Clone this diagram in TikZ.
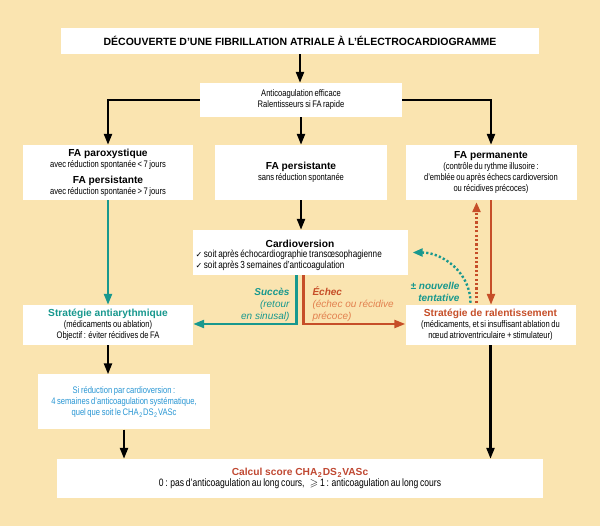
\documentclass[tikz,border=0pt]{standalone}
\usepackage{fontspec}
\setmainfont{Liberation Sans}
\newfontfamily\etroit[FakeStretch=0.8,WordSpace=0.75]{Liberation Sans}
\newfontfamily\symboles{DejaVu Sans}
\usepackage{amssymb}
\usetikzlibrary{arrows.meta}

\definecolor{fond}{RGB}{250,228,176}
\definecolor{vert}{RGB}{24,152,142}
\definecolor{rouille}{RGB}{198,78,40}
\definecolor{orangeclair}{RGB}{226,128,78}
\definecolor{bleuclair}{RGB}{40,150,212}
\definecolor{rougetitre}{RGB}{192,72,50}

\newcommand\titre[1]{{\normalfont\bfseries\fontsize{10.2}{12}\selectfont #1}}
\newcommand\coche{{\symboles\fontsize{8}{10}\selectfont ✓}}
\newcommand\chads{CHA\kern.6pt\textsubscript{2}\kern.3pt DS\kern.6pt\textsubscript{2}\kern.3pt VASc}

\begin{document}
\begin{tikzpicture}[x=1pt,y=-1pt,
  boite/.style={fill=white, inner sep=2pt, align=center,
    font=\etroit\fontsize{9.5}{11}\selectfont},
  fleche/.style={line width=2.3pt, -{Triangle[length=11pt,width=8pt]}},
  pointille/.style={line width=2.4pt, dash pattern=on 2.2pt off 2.2pt,
    -{Triangle[length=10pt,width=8pt]}},
  legende/.style={font=\fontsize{10}{12}\selectfont\itshape}]
  % fond
  \fill[fond] (0,0) rectangle (600,526);

  % boites
  \node[boite, minimum width=478pt, minimum height=26pt,
    font=\bfseries\fontsize{10.5}{12}\selectfont] (titre) at (300,41)
    {DÉCOUVERTE D’UNE FIBRILLATION ATRIALE À L’ÉLECTROCARDIOGRAMME};
  \node[boite, minimum width=202pt, minimum height=34pt] (anticoag) at (301,100)
    {Anticoagulation efficace\\ Ralentisseurs si FA rapide};
  \node[boite, minimum width=170pt, minimum height=55pt] (parox) at (108,172.5)
    {\titre{FA paroxystique}\\ avec réduction spontanée < 7 jours\\[5pt]
     \titre{FA persistante}\\ avec réduction spontanée > 7 jours};
  \node[boite, minimum width=172pt, minimum height=55pt] (persist) at (301,172.5)
    {\titre{FA persistante}\\ sans réduction spontanée};
  \node[boite, minimum width=171pt, minimum height=55pt] (perm) at (491,172.5)
    {\titre{FA permanente}\\ (contrôle du rythme illusoire :\\
     d’emblée ou après échecs cardioversion\\ ou récidives précoces)};
  \node[boite, minimum width=215pt, minimum height=45pt, text width=209pt, align=flush left,
    font=\etroit\fontsize{10.2}{11}\selectfont] (cardio) at (300,252.5)
    {\rule{0pt}{13pt}\makebox[209pt]{\titre{Cardioversion}}\\[-1pt]
     \coche\ soit après échocardiographie transœsophagienne\\
     \coche\ soit après 3 semaines d’anticoagulation};
  \node[boite, minimum width=170pt, minimum height=40pt] (anti) at (108,325)
    {\titre{\color{vert}Stratégie antiarythmique}\\ (médicaments ou ablation)\\
     Objectif : éviter récidives de FA};
  \node[boite, minimum width=170pt, minimum height=40pt] (ralent) at (490.5,325)
    {\titre{\color{rouille}Stratégie de ralentissement}\\
     (médicaments, et si insuffisant ablation du\\ nœud atrioventriculaire + stimulateur)};
  \node[boite, minimum width=172pt, minimum height=55pt, text=bleuclair] (sireduc) at (124,402)
    {Si réduction par cardioversion :\\ 4 semaines d’anticoagulation systématique,\\
     quel que soit le \chads};
  \node[boite, minimum width=486pt, minimum height=39pt] (calc) at (300,478.5)
    {\titre{\color{rougetitre}Calcul score \chads}\\
     {\fontsize{10.7}{12}\selectfont 0 : pas d’anticoagulation au long cours,\ \ \
     $\geqslant$ 1 : anticoagulation au long cours}};

  % legendes
  \node[legende, text=vert, align=right, anchor=east] (succes) at (293,304.5)
    {\textbf{Succès}\\ (retour\\ en sinusal)};
  \node[legende, text=orangeclair, align=left, anchor=west] (echec) at (309,304.5)
    {{\color{rouille}\textbf{Échec}}\\ (échec ou récidive\\ précoce)};
  \node[legende, text=vert, align=right, anchor=east] (tentative) at (463,291.5)
    {\textbf{± nouvelle}\\ \textbf{tentative}};

  % fleches
  \draw[fleche] (titre.south) -- (titre.south |- anticoag.north);
  \draw[fleche] (anticoag.west) -| (parox.north);
  \draw[fleche] (anticoag.east) -| (perm.north);
  \draw[fleche] (anticoag.south) -- (persist.north);
  \draw[fleche] (persist.south) -- (persist.south |- cardio.north);
  \draw[fleche, vert] (parox.south) -- (anti.north);
  \draw[fleche, vert] ([xshift=-3.5pt]cardio.south) |- ([yshift=1pt]anti.east);
  \draw[fleche, rouille] ([xshift=3.5pt]cardio.south) |- ([yshift=1pt]ralent.west);
  \draw[fleche, rouille] (perm.south) -- (perm.south |- ralent.north);
  \coordinate (retourpt) at ([xshift=-14pt,yshift=2pt]ralent.north);
  \draw[pointille, rouille, shorten >=2pt] (retourpt) -- (retourpt |- perm.south);
  \draw[pointille, vert] ([xshift=-20pt,yshift=2pt]ralent.north)
    to[out=90,in=0] ([xshift=5pt]cardio.east);
  \draw[fleche] (anti.south) -- (anti.south |- sireduc.north);
  \draw[fleche] (sireduc.south) -- (sireduc.south |- calc.north);
  \draw[fleche] (ralent.south) -- (ralent.south |- calc.north);
\end{tikzpicture}
\end{document}
